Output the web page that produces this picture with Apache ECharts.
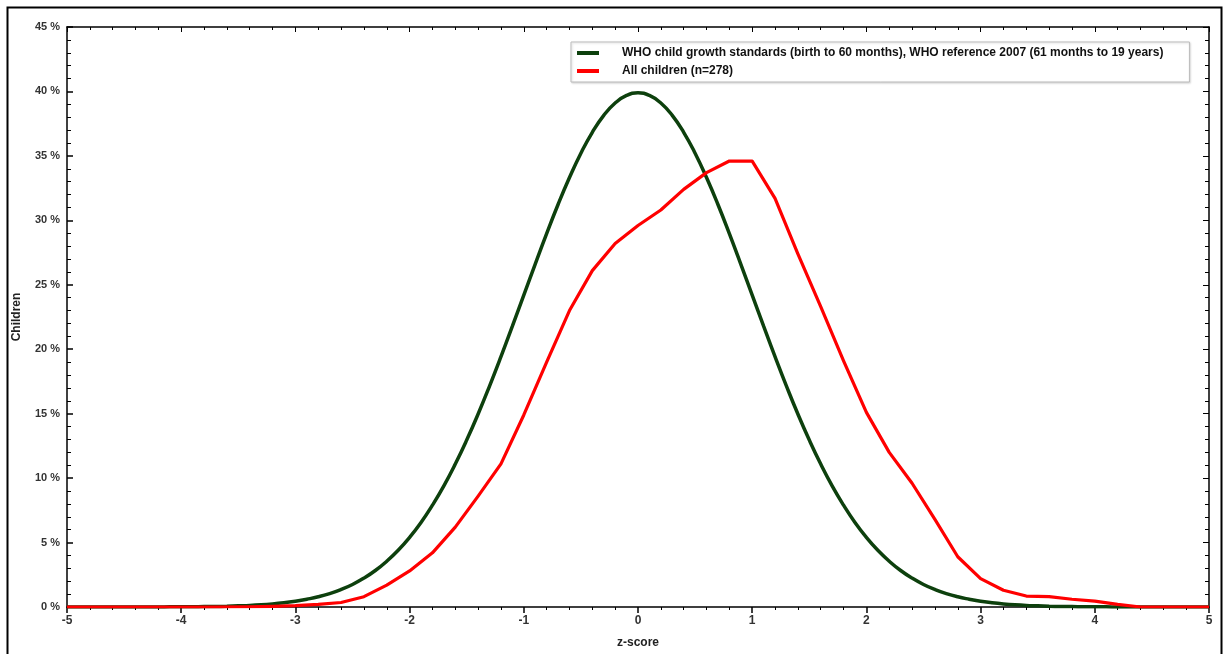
<!DOCTYPE html>
<html>
<head>
<meta charset="utf-8">
<script src="https://cdn.jsdelivr.net/npm/echarts@6/dist/echarts.min.js"></script>
<style>
html,body{margin:0;padding:0;background:#fff;}
#c{width:1229px;height:654px;}
</style>
</head>
<body>
<div id="c"></div>
<script>
// WHO reference curve, z from -5 to 5 in steps of 0.1
var whoZ = [-5,-4.9,-4.8,-4.7,-4.6,-4.5,-4.4,-4.3,-4.2,-4.1,-4,-3.9,-3.8,-3.7,-3.6,-3.5,-3.4,-3.3,-3.2,-3.1,-3,-2.9,-2.8,-2.7,-2.6,-2.5,-2.4,-2.3,-2.2,-2.1,-2,-1.9,-1.8,-1.7,-1.6,-1.5,-1.4,-1.3,-1.2,-1.1,-1,-0.9,-0.8,-0.7,-0.6,-0.5,-0.4,-0.3,-0.2,-0.1,0,0.1,0.2,0.3,0.4,0.5,0.6,0.7,0.8,0.9,1,1.1,1.2,1.3,1.4,1.5,1.6,1.7,1.8,1.9,2,2.1,2.2,2.3,2.4,2.5,2.6,2.7,2.8,2.9,3,3.1,3.2,3.3,3.4,3.5,3.6,3.7,3.8,3.9,4,4.1,4.2,4.3,4.4,4.5,4.6,4.7,4.8,4.9,5];
var whoValues = [0,0,0,0,0,0,0,0,0,0.01,0.01,0.02,0.03,0.04,0.06,0.09,0.12,0.17,0.24,0.33,0.44,0.6,0.79,1.04,1.36,1.75,2.24,2.83,3.55,4.4,5.4,6.56,7.9,9.4,11.09,12.95,14.97,17.14,19.42,21.79,24.2,26.61,28.97,31.23,33.32,35.21,36.83,38.14,39.1,39.69,39.89,39.69,39.1,38.14,36.83,35.21,33.32,31.23,28.97,26.61,24.2,21.79,19.42,17.14,14.97,12.95,11.09,9.4,7.9,6.56,5.4,4.4,3.55,2.83,2.24,1.75,1.36,1.04,0.79,0.6,0.44,0.33,0.24,0.17,0.12,0.09,0.06,0.04,0.03,0.02,0.01,0.01,0,0,0,0,0,0,0,0,0];

// All children curve
var kidsZ = [-5,-4.6,-4.2,-3.8,-3.4,-3.2,-3,-2.8,-2.6,-2.4,-2.2,-2,-1.8,-1.6,-1.4,-1.2,-1,-0.8,-0.6,-0.4,-0.2,0,0.2,0.4,0.6,0.8,1,1.2,1.4,1.6,1.8,2,2.2,2.4,2.6,2.8,3,3.2,3.4,3.6,3.8,4,4.2,4.4,4.6,5];
var kidsValues = [0,0,0,0,0.02,0.05,0.1,0.2,0.35,0.8,1.7,2.8,4.2,6.2,8.6,11.1,14.9,19,23,26.1,28.2,29.6,30.8,32.4,33.7,34.6,34.6,31.7,27.4,23.3,19.1,15.1,12,9.6,6.8,3.9,2.2,1.3,0.85,0.8,0.6,0.45,0.2,0,0,0];

var xTicks = ['-5','-4','-3','-2','-1','0','1','2','3','4','5'];

var whoName = 'WHO child growth standards (birth to 60 months), WHO reference 2007 (61 months to 19 years)';
var kidsName = 'All children (n=278)';

function pairs(xs, ys){ return xs.map(function(x,i){ return [x, ys[i]]; }); }

var chart = echarts.init(document.getElementById('c'), null, {renderer:'canvas'});
var font = 'Liberation Sans, Arial, sans-serif';
var axisLineStyle = {color:'#000', width:1.5};
chart.setOption({
  animation:false,
  backgroundColor:'#fff',
  graphic:[{type:'rect', shape:{x:7.5,y:7.5,width:1214,height:660}, style:{fill:'none', stroke:'#000', lineWidth:2}, z:-1}],
  grid:{left:67, right:20, top:27, bottom:45},
  legend:{
    orient:'vertical', left:571, top:42, width:620,
    backgroundColor:'#fff', borderColor:'#bbb', borderWidth:1,
    padding:[5,26,5,6], itemGap:6, itemWidth:22, itemHeight:4,
    icon:'rect',
    textStyle:{fontFamily:font, fontSize:12, color:'#111', fontWeight:'bold', padding:[0,0,0,18]},
    shadowColor:'rgba(0,0,0,0.15)', shadowBlur:2, shadowOffsetX:1, shadowOffsetY:1,
    data:[whoName, kidsName]
  },
  xAxis:[{
    type:'value', min:-5, max:5, interval:1, position:'bottom',
    name:'z-score', nameLocation:'middle', nameGap:30,
    nameTextStyle:{fontFamily:font, fontSize:12, color:'#222', fontWeight:'bold'},
    axisLine:{show:true, onZero:false, lineStyle:axisLineStyle},
    axisTick:{show:true, inside:false, length:6, lineStyle:{color:'#000', width:1.5}},
    minorTick:{show:true, splitNumber:5, length:3, lineStyle:{color:'#000', width:1}},
    axisLabel:{fontFamily:font, fontSize:12, color:'#333', fontWeight:'bold', margin:8,
      formatter:function(v){ return xTicks[Math.round(v)+5]; }},
    splitLine:{show:false}
  },{
    type:'value', min:-5, max:5, interval:1, position:'top',
    axisLine:{show:true, onZero:false, lineStyle:axisLineStyle},
    axisTick:{show:true, inside:true, length:5, lineStyle:{color:'#000', width:1}},
    minorTick:{show:true, splitNumber:5, length:3, lineStyle:{color:'#000', width:1}},
    axisLabel:{show:false}, splitLine:{show:false}
  }],
  yAxis:[{
    type:'value', min:0, max:45, interval:5, position:'left',
    name:'Children', nameLocation:'middle', nameGap:44, nameRotate:90,
    nameTextStyle:{fontFamily:font, fontSize:12, color:'#222', fontWeight:'bold'},
    axisLine:{show:true, onZero:false, lineStyle:axisLineStyle},
    axisTick:{show:true, inside:true, length:6, lineStyle:{color:'#000', width:1.5}},
    minorTick:{show:true, splitNumber:5, length:4, lineStyle:{color:'#000', width:1}},
    axisLabel:{fontFamily:font, fontSize:11, color:'#333', fontWeight:'bold', margin:7,
      formatter:'{value} %'},
    splitLine:{show:false}
  },{
    type:'value', min:0, max:45, interval:5, position:'right',
    axisLine:{show:true, onZero:false, lineStyle:axisLineStyle},
    axisTick:{show:true, inside:true, length:6, lineStyle:{color:'#000', width:1}},
    minorTick:{show:true, splitNumber:5, length:4, lineStyle:{color:'#000', width:1}},
    axisLabel:{show:false}, splitLine:{show:false}
  }],
  series:[{
    name:whoName, type:'line', data:pairs(whoZ, whoValues), smooth:true,
    showSymbol:false, symbol:'none', color:'#0d400d',
    lineStyle:{color:'#0d400d', width:3.5}, z:3
  },{
    name:kidsName, type:'line', data:pairs(kidsZ, kidsValues), smooth:false,
    showSymbol:false, symbol:'none', color:'#ff0000',
    lineStyle:{color:'#ff0000', width:3.2, join:'round'}, z:4
  }]
});
</script>
</body>
</html>
